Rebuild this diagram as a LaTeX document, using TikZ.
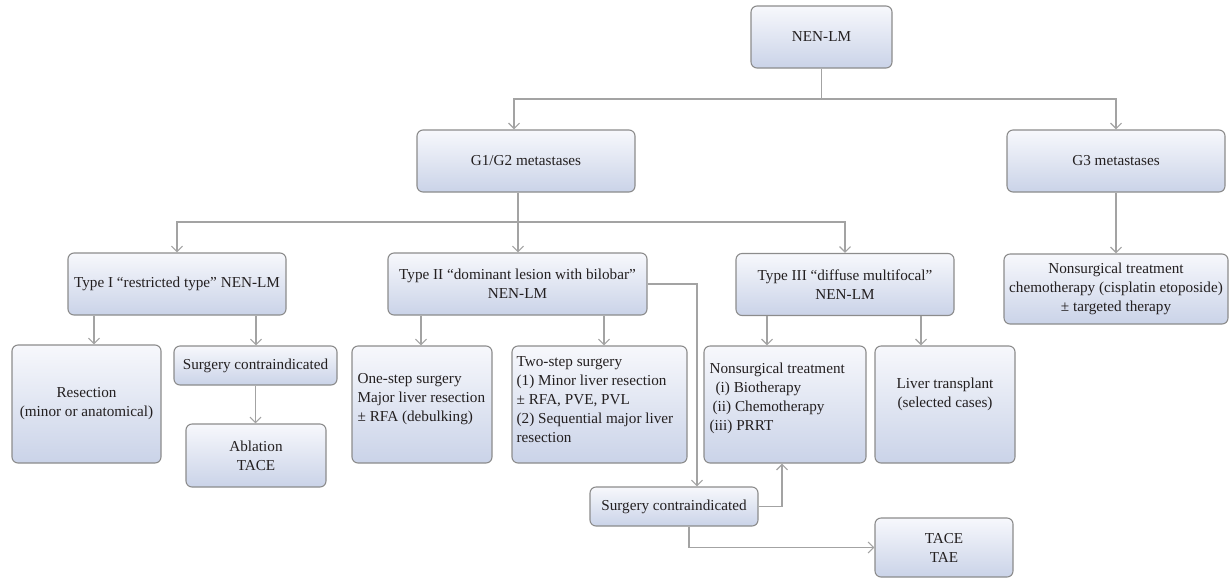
\documentclass[tikz,border=0pt]{standalone}
\usepackage{fontspec}
\setmainfont{Liberation Serif}
\usetikzlibrary{arrows.meta,calc}
\definecolor{bd}{HTML}{8C8C8C}
\definecolor{lnc}{HTML}{A3A3A3}
\definecolor{topc}{HTML}{F7F8FC}
\definecolor{botc}{HTML}{CAD3E8}
\definecolor{tc}{HTML}{231F20}
\newcommand\dfont{\fontsize{15.2}{19}\selectfont}
\begin{document}
\begin{tikzpicture}[x=1pt,y=-1pt,
 box/.style={draw=bd, line width=1.1pt, rounded corners=6pt, top color=topc, bottom color=botc, inner sep=0pt, font=\dfont, align=center, text=tc},
 txt/.style={inner sep=0pt, font=\dfont, align=left, text=tc},
 lnk/.style={draw=lnc, line width=1.2pt},
 arr/.style={lnk, -{Straight Barb[length=5.5pt,width=11pt]}}
]
\useasboundingbox (0,0) rectangle (1230,579);

% top levels
\node[box, minimum width=141pt, minimum height=62pt] (nen) at (821.5,37) {NEN-LM};
\node[box, minimum width=218pt, minimum height=62pt] (g12) at (526,161) {G1/G2 metastases};
\node[box, minimum width=218pt, minimum height=62pt] (g3) at (1116,161) {G3 metastases};

% types
\node[box, minimum width=218pt, minimum height=62pt] (t1) at (177,284) {Type I “restricted type” NEN-LM};
\node[box, minimum width=259pt, minimum height=62pt] (t2) at (517.5,284) {Type II “dominant lesion with bilobar”\\NEN-LM};
\node[box, minimum width=218pt, minimum height=62pt] (t3) at (845,284.5) {Type III “diffuse multifocal”\\NEN-LM};
\node[box, minimum width=224pt, minimum height=70pt] (g3n) at (1116,289) {Nonsurgical treatment\\chemotherapy (cisplatin etoposide)\\± targeted therapy};

% type I children
\node[box, minimum width=149pt, minimum height=118pt] (res) at (86.5,404) {Resection\\(minor or anatomical)};
\node[box, minimum width=163pt, minimum height=39pt] (sc1) at (255.5,365.5) {Surgery contraindicated};
\node[box, minimum width=140pt, minimum height=63pt] (abl) at (256,455.5) {Ablation\\TACE};

% type II children
\node[box, minimum width=140pt, minimum height=117pt] (one) at (422,404.5) {};
\node[txt, anchor=west] (onet) at ([xshift=6pt,yshift=5pt]one.west) {One-step surgery\\Major liver resection\\± RFA (debulking)};
\node[box, minimum width=175pt, minimum height=117pt] (two) at (599.5,404.5) {};
\node[txt, anchor=west] (twot) at ([xshift=5pt,yshift=5pt]two.west) {Two-step surgery\\(1) Minor liver resection\\± RFA, PVE, PVL\\(2) Sequential major liver\\resection};
\node[box, minimum width=168pt, minimum height=39pt] (sc2) at (674,506.5) {Surgery contraindicated};
\node[box, minimum width=138pt, minimum height=59pt] (tace) at (944,547.5) {TACE\\TAE};

% type III children
\node[box, minimum width=162pt, minimum height=117pt] (nst) at (785,404.5) {};
\node[txt, anchor=west] (nstt) at ([xshift=6pt,yshift=6pt]nst.west) {Nonsurgical treatment\\\hspace*{6pt}(i) Biotherapy\\\hspace*{3pt}(ii) Chemotherapy\\(iii) PRRT};
\node[box, minimum width=140pt, minimum height=117pt] (liv) at (945,404.5) {};
\node[txt, align=center] (livt) at ([yshift=10pt]liv.center) {Liver transplant\\(selected cases)};

% connectors
\coordinate (j0) at (821.5,99);
\draw[lnk] (nen.south) -- (j0);
\draw[arr] (j0) -| ([xshift=-12pt]g12.north);
\draw[arr] (j0) -| (g3.north);
\draw[arr] (g3.south) -- (g3n.north);

\coordinate (j1) at (518,222);
\draw[lnk] ([xshift=-8pt]g12.south) -- (j1);
\draw[arr] (j1) -| (t1.north);
\draw[arr] (j1) -- (j1 |- t2.north);
\draw[arr] (j1) -| (t3.north);

\coordinate (p1) at ([xshift=-83pt]t1.south);
\coordinate (p2) at ([xshift=79pt]t1.south);
\draw[arr] (p1) -- (p1 |- res.north);
\draw[arr] (p2) -- (p2 |- sc1.north);
\draw[arr] (sc1.south) -- (sc1.south |- abl.north);

\coordinate (p3) at ([xshift=-96.5pt]t2.south);
\coordinate (p4) at ([xshift=86.5pt]t2.south);
\draw[arr] (p3) -- (p3 |- one.north);
\draw[arr] (p4) -- (p4 |- two.north);
\draw[arr] (t2.east) -| ([xshift=23pt]sc2.north);
\draw[arr] (sc2.east) -| ([xshift=-3pt]nst.south);
\draw[arr] ([xshift=15pt]sc2.south) |- (tace.west);

\coordinate (p5) at ([xshift=-78pt]t3.south);
\coordinate (p6) at ([xshift=76pt]t3.south);
\draw[arr] (p5) -- (p5 |- nst.north);
\draw[arr] (p6) -- (p6 |- liv.north);
\end{tikzpicture}
\end{document}
